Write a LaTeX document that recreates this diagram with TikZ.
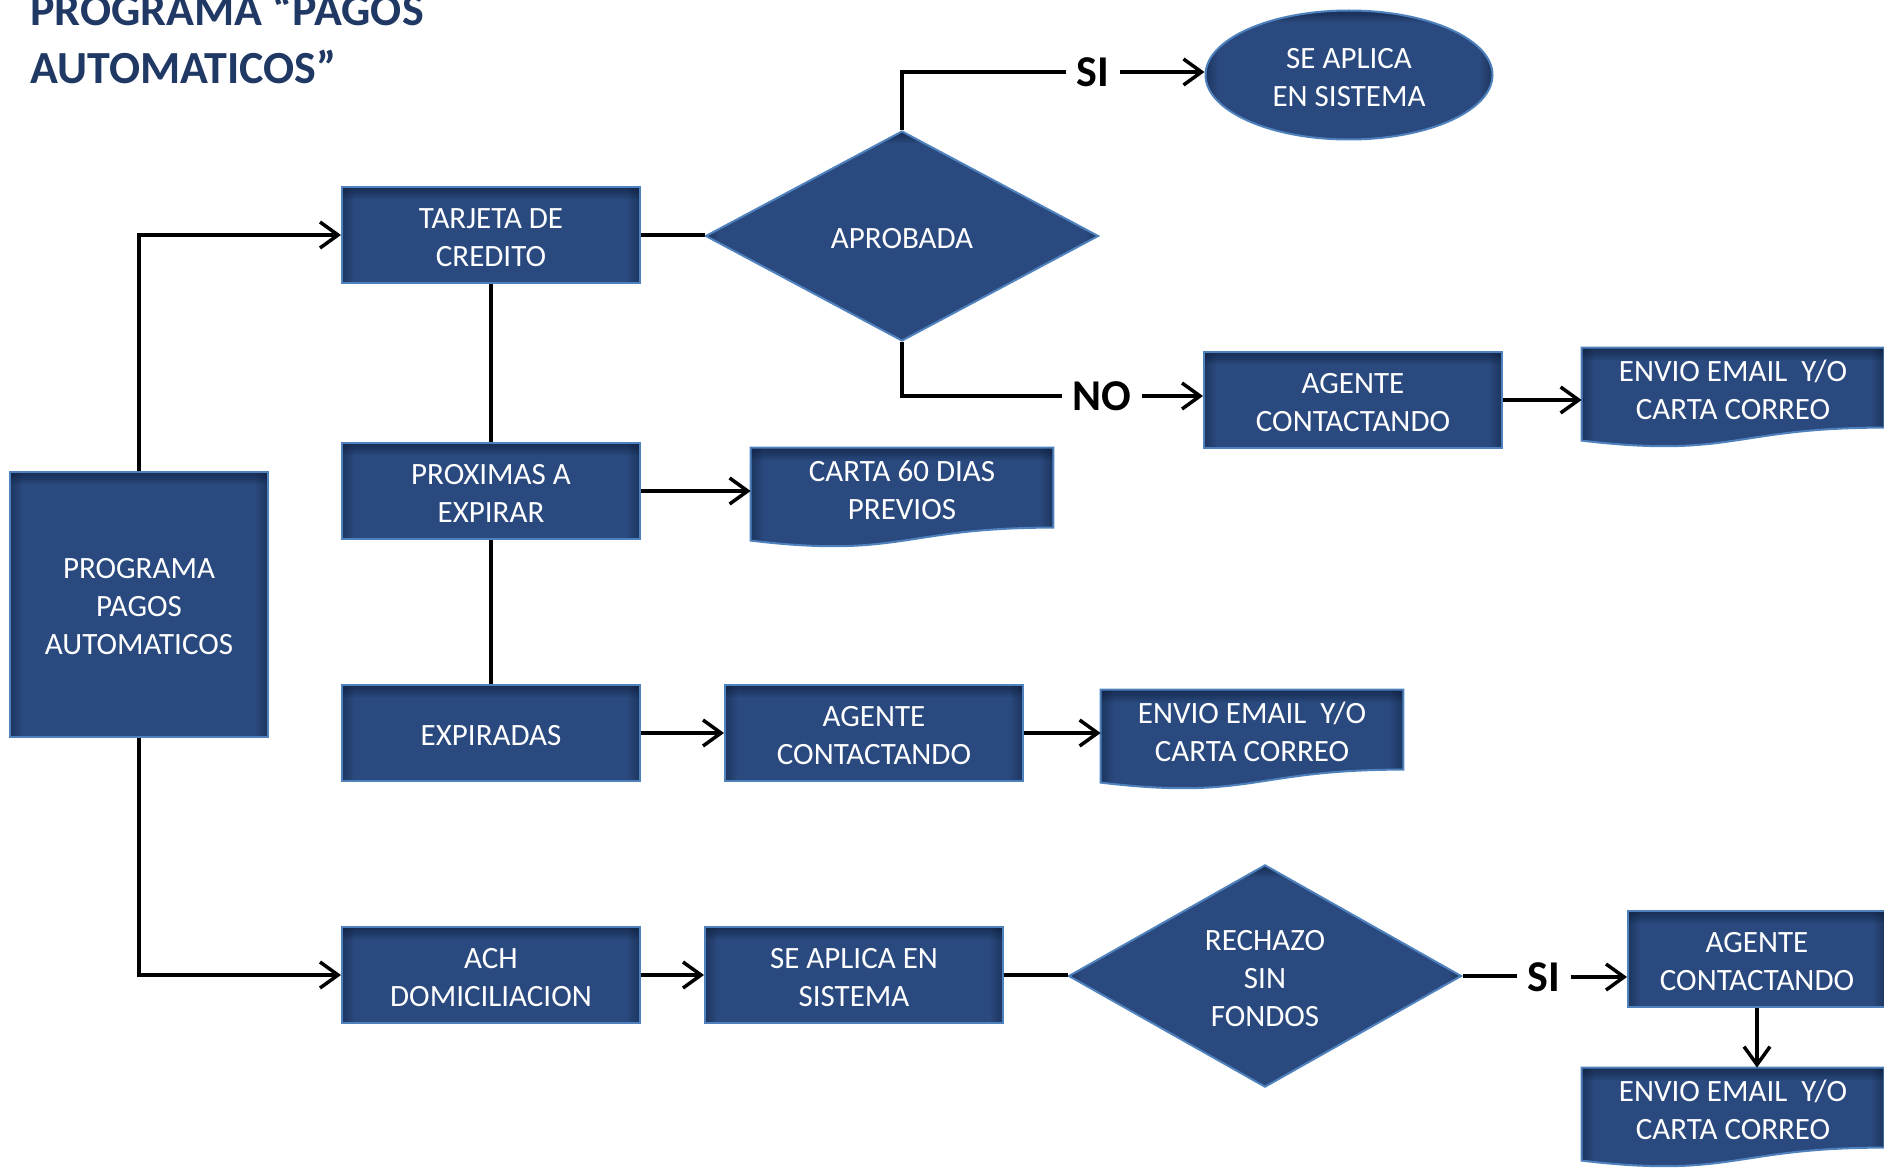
\documentclass[tikz,border=0pt]{standalone}
\usepackage{fontspec}
\setmainfont{Carlito}
\usetikzlibrary{shapes.geometric,arrows.meta,calc,backgrounds}
\definecolor{boxfill}{HTML}{2A4A7F}
\definecolor{boxline}{HTML}{4F81BD}
\definecolor{boxshade}{HTML}{0E1C38}
\definecolor{titlecol}{HTML}{1F3864}
\tikzset{
  inshade/.style={path picture={
    \foreach \d in {2,4,6,8,10,12} {
      \fill[boxshade, opacity=0.12]
        (path picture bounding box.north west) rectangle ($(path picture bounding box.north east)+(0,\d)$);
      \fill[boxshade, opacity=0.07]
        (path picture bounding box.north west) rectangle ($(path picture bounding box.south west)+(\d,0)$);
      \fill[boxshade, opacity=0.07]
        (path picture bounding box.north east) rectangle ($(path picture bounding box.south east)+(-\d,0)$);
    }
  }},
  txt/.style={text=white, font=\fontsize{15.5}{19.2}\selectfont, align=center},
  lowtxt/.style={execute at begin node={\rule{0pt}{#1}}},
  lowtxt/.default=31.8pt,
  box/.style={rectangle, fill=boxfill, draw=boxline, line width=1pt, txt, inner sep=0pt,
    minimum width=149pt, minimum height=48pt, inshade},
  dec/.style={diamond, fill=boxfill, draw=boxline, line width=1pt, txt, inner sep=0pt,
    minimum width=196.5pt, minimum height=105pt, inshade},
  term/.style={ellipse, fill=boxfill, draw=boxline, line width=1pt, txt, inner sep=0pt,
    minimum width=143.5pt, minimum height=64.5pt, inshade},
  docnode/.style={rectangle, txt, inner sep=0pt, minimum width=151pt, minimum height=42pt},
  docshape/.style={fill=boxfill, draw=boxline, line width=1pt, inshade},
  conn/.style={line width=1.75pt, -{Straight Barb[length=9pt,width=13pt]}},
  link/.style={line width=1.75pt},
  lbl/.style={font=\bfseries\fontsize{22}{24}\selectfont, inner xsep=5pt, inner ysep=0pt},
  titlestyle/.style={text=titlecol, font=\bfseries\fontsize{23}{29}\selectfont, align=left, inner sep=0pt}
}
\newcommand\docpath[1]{%
  \path[docshape] (#1.north west) -- (#1.north east) -- ($(#1.north east)+(0,80)$)
    .. controls ($(#1.north)+(0,80)$) and ($(#1.north)+(0,111)$) .. ($(#1.north west)+(0,93)$) -- cycle;}
\begin{document}
\begin{tikzpicture}[x=0.5pt, y=-0.5pt]
\useasboundingbox (0,0) rectangle (1884,1172);

% title
\node[titlestyle, anchor=north west] (title) at (30,-9) {PROGRAMA “PAGOS\\AUTOMATICOS”};

% nodes
\node[box, lowtxt=51pt, minimum width=129pt, minimum height=132.5pt] (prog) at (139,604) {PROGRAMA\\PAGOS\\AUTOMATICOS};
\node[box, lowtxt] (tarj) at (491,235) {TARJETA DE\\CREDITO};
\node[box, lowtxt] (prox) at (491,491) {PROXIMAS A\\EXPIRAR};
\node[box, lowtxt=12.6pt] (expi) at (491,733) {EXPIRADAS};
\node[box, lowtxt] (ach) at (491,975) {ACH\\DOMICILIACION};
\node[dec, lowtxt=12.6pt] (aprob) at (902,236) {APROBADA};
\node[term, lowtxt] (aplica) at (1349,75) {SE APLICA\\EN SISTEMA};
\node[box, lowtxt] (agt1) at (1353,400) {AGENTE\\CONTACTANDO};
\node[docnode] (env1) at (1733,390) {ENVIO EMAIL~ Y/O\\CARTA CORREO};
\node[docnode] (carta) at (902,490) {CARTA 60 DIAS\\PREVIOS};
\node[box, lowtxt] (agt2) at (874,733) {AGENTE\\CONTACTANDO};
\node[docnode] (env2) at (1252,732) {ENVIO EMAIL~ Y/O\\CARTA CORREO};
\node[box, lowtxt] (apl2) at (854,975) {SE APLICA EN\\SISTEMA};
\node[dec, lowtxt=51pt] (rech) at (1265,976) {RECHAZO\\SIN\\FONDOS};
\node[box, lowtxt, minimum width=129pt] (agt3) at (1757,959) {AGENTE\\CONTACTANDO};
\node[docnode] (env3) at (1733,1110) {ENVIO EMAIL~ Y/O\\CARTA CORREO};

\node[lbl] (si1) at (1093,72) {SI};
\node[lbl] (no1) at (1102,396) {NO};
\node[lbl] (si2) at (1544,977) {SI};

% document shapes behind their texts
\begin{scope}[on background layer]
\docpath{env1}
\docpath{carta}
\docpath{env2}
\docpath{env3}
\end{scope}

% connectors
\draw[conn] (prog.north) |- (tarj.west);
\draw[conn] (prog.south) |- (ach.west);
\draw[link] (tarj.south) -- (prox.north);
\draw[link] (prox.south) -- (expi.north);
\draw[link] (tarj.east) -- (tarj.east -| aprob.west);
\draw[link] (aprob.north) |- (si1.west);
\draw[conn] (si1.east) -- (si1.east -| aplica.west);
\draw[link] (aprob.south) |- (no1.west);
\draw[conn] (no1.east) -- (no1.east -| agt1.west);
\draw[conn] (agt1.east) -- (agt1.east -| env1.west);
\draw[conn] (prox.east) -- (prox.east -| carta.west);
\draw[conn] (expi.east) -- (agt2.west);
\draw[conn] (agt2.east) -- (agt2.east -| env2.west);
\draw[conn] (ach.east) -- (apl2.west);
\draw[link] (apl2.east) -- (apl2.east -| rech.west);
\draw[link] (rech.east) -- (rech.east -| si2.west);
\draw[conn] (si2.east) -- (si2.east -| agt3.west);
\draw[conn] (agt3.south) -- (agt3.south |- env3.north);
\end{tikzpicture}
\end{document}
